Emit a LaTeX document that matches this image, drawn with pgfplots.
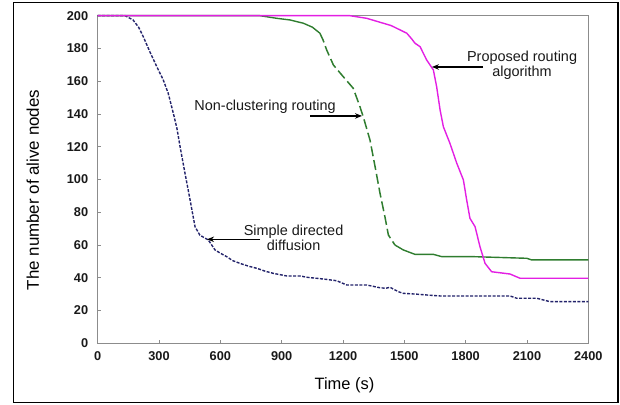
\documentclass[border=0pt]{standalone}
\usepackage{fontspec}
\setmainfont{Liberation Sans}
\usepackage{pgfplots}
\pgfplotsset{compat=1.18}
\usetikzlibrary{arrows.meta}
\definecolor{cblue}{HTML}{22226A}
\definecolor{cgreen}{HTML}{2F7D2F}
\definecolor{cmag}{HTML}{E31FE3}
\definecolor{caxis}{HTML}{8C8C8C}
\begin{document}
\begin{tikzpicture}[x=1bp,y=1bp]
\draw[black, line width=1.3bp] (13.3,1.3) rectangle (618,401.3);
\begin{axis}[
  at={(97.7bp,60.7bp)}, anchor=south west,
  scale only axis, width=490.6bp, height=327.6bp,
  xmin=0, xmax=2400, ymin=0, ymax=200,
  xtick={0,300,...,2400}, ytick={0,20,...,200},
  xtick pos=lower, ytick pos=left,
  tick align=inside, major tick length=3bp,
  axis line style={caxis, line width=1bp},
  tick style={caxis, line width=0.8bp},
  /pgf/number format/1000 sep={},
  /pgf/number format/assume math mode=true,
  ticklabel style={font=\fontsize{12.8}{14}\selectfont\bfseries, text=black!90},
  xticklabel style={yshift=-5bp},
  yticklabel style={xshift=-6bp},
  xlabel={Time (s)},
  ylabel={The number of alive nodes},
  xlabel style={font=\fontsize{16.5}{18}\selectfont, at={(axis description cs:0.503,-0.127)}, anchor=center},
  ylabel style={font=\fontsize{17}{18}\selectfont, at={(axis description cs:-0.132,0.468)}, anchor=center},
  clip=false,
]
% Simple directed diffusion
\addplot[cblue, line width=1.4bp, dash pattern=on 3bp off 1.5bp] coordinates {
(0,200) (134,200) (173,197.4) (200,193) (223,187.2) (255,178) (289,168.9) (320,161) (345,152.6)
(370,140.4) (388,131) (403,120.0) (427,103.8) (452,87.5) (476,71.2) (500,66) (541,63.1)
(574,57.0) (600,55) (631,52.9) (660,50.5) (696,48.8) (740,47) (778,45.8) (820,44)
(859,42.7) (925,41.1) (990,41.1) (1030,40.2) (1071,39.7) (1120,39) (1169,38.2) (1218,35.6)
(1316,35.6) (1381,33.9) (1410,33.6) (1430,34.2) (1471,31.5) (1495,30.5) (1560,30) (1620,29.4) (1675,28.9)
(2017,28.9) (2050,27.5) (2148,27.5) (2213,25.4) (2400,25.4)
};
% Non-clustering routing (solid - dashed - solid)
\addplot[cgreen, line width=1.4bp] coordinates {
(0,200) (794,200) (876,198.4) (941,197.4) (1006,195.4) (1050,193) (1087,189.3)
};
\addplot[cgreen, line width=1.5bp, dash pattern=on 10bp off 4bp] coordinates {
(1087,189.3) (1103,185) (1120,179.1) (1153,169.9) (1201,162.8) (1250,155.7) (1283,144.4)
(1299,138.3) (1332,124.1) (1357,107.8) (1381,91.6) (1405,77.3) (1422,66.1) (1454,60.0)
};
\addplot[cgreen, line width=1.4bp] coordinates {
(1454,60.0) (1495,57.0) (1552,54.3) (1642,54.3) (1683,52.9) (1837,52.9) (2099,51.9)
(2123,50.9) (2400,50.9)
};
% Proposed routing algorithm
\addplot[cmag, line width=1.4bp] coordinates {
(0,200) (1234,200) (1316,198.4) (1397,195.4) (1435,194) (1463,192.3) (1512,189.3) (1535,186)
(1552,183.2) (1577,181.1) (1609,173.0) (1642,166.9) (1658,156.7) (1675,142.4) (1691,132.2)
(1723,122.1) (1756,110.1) (1789,99.7) (1805,87.5) (1821,76.3) (1846,71.2) (1870,59.0)
(1895,48.8) (1927,43.7) (2017,42.3) (2066,39.7) (2400,39.7)
};
% annotations
\draw[-{Stealth[length=7bp,width=5.5bp]}, line width=1.2bp, black] (axis cs:1885,168.7) -- (axis cs:1635,168.7);
\node[font=\fontsize{14.5}{15}\selectfont, align=center, text=black!90] at (axis cs:2076,169.6) {Proposed routing\\algorithm};
\draw[-{Stealth[length=7bp,width=5.5bp]}, line width=1.2bp, black] (axis cs:1039,138.8) -- (axis cs:1293,138.8);
\node[font=\fontsize{14.5}{15}\selectfont, text=black!90] at (axis cs:819,144.4) {Non-clustering routing};
\draw[-{Stealth[length=7bp,width=5.5bp]}, line width=1.2bp, black] (axis cs:794,63.5) -- (axis cs:535,63.5);
\node[font=\fontsize{14.5}{15}\selectfont, align=center, text=black!90] at (axis cs:958,64.1) {Simple directed\\diffusion};
\end{axis}
\pgfresetboundingbox
\path[use as bounding box] (0,0) rectangle (620,404);
\end{tikzpicture}
\end{document}
